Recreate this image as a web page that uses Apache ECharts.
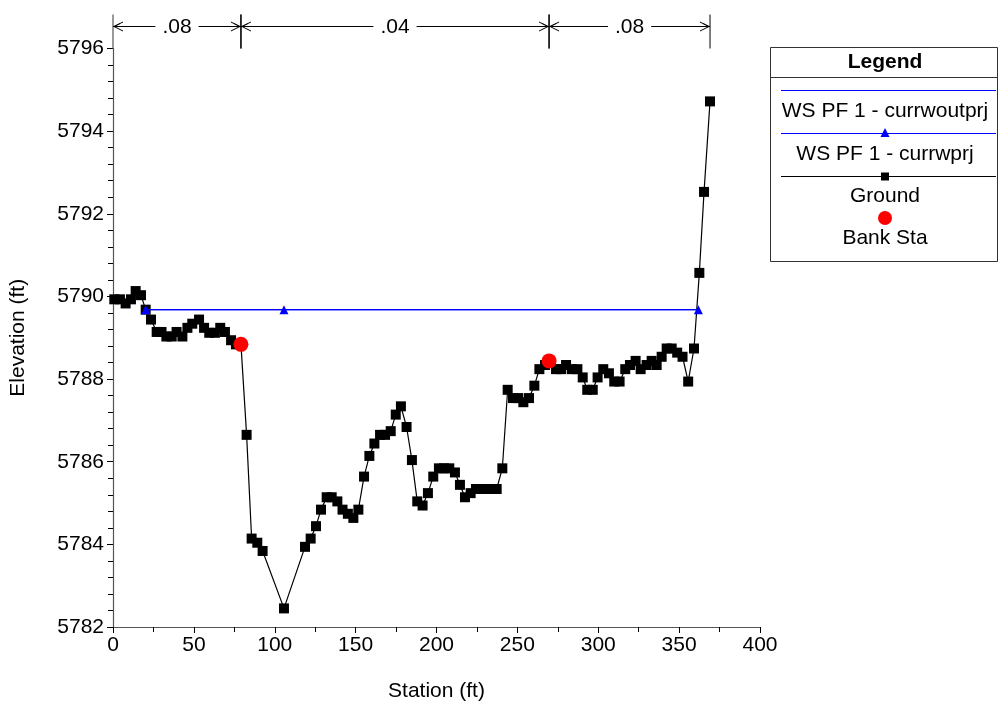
<!DOCTYPE html>
<html>
<head>
<meta charset="utf-8">
<title>Cross Section</title>
<script src="https://cdn.jsdelivr.net/npm/echarts@6/dist/echarts.min.js"></script>
<style>
  html, body { margin: 0; padding: 0; background: #fff; }
  #chart { width: 999px; height: 706px; }
</style>
</head>
<body>
<div id="chart"></div>
<script>
// Ground profile: station (ft), elevation (ft)
const groundStation = [
  0.8, 4.3, 7.8, 11.1, 14.0, 17.3, 20.2, 23.5, 27.0, 30.0, 33.0, 36.3, 39.3, 42.9, 46.0, 49.0,
  53.2, 56.3, 59.5, 63.0, 66.3, 69.2, 73.0, 76.0, 79.1, 82.6, 85.7, 89.2, 92.5, 105.7, 118.7,
  122.2, 125.5, 128.6, 132.1, 135.2, 138.7, 141.9, 145.2, 148.6, 151.7, 155.2, 158.5, 161.6,
  165.1, 168.2, 171.7, 174.8, 178.0, 181.5, 184.8, 188.1, 191.4, 194.7, 198.0, 201.5, 204.6,
  207.9, 211.4, 214.5, 217.6, 221.1, 224.4, 227.5, 231.0, 234.1, 237.2, 240.7, 244.0, 247.3,
  250.6, 253.7, 257.2, 260.5, 263.6, 267.1, 269.6, 273.9, 277.0, 280.1, 283.6, 287.1, 290.4,
  293.2, 296.6, 299.6, 303.1, 306.6, 309.9, 313.2, 316.7, 319.6, 323.1, 326.2, 329.9, 333.0,
  336.1, 339.2, 342.3, 345.4, 348.8, 352.1, 355.6, 359.2, 362.5, 365.4, 369.1
];
const groundElev = [
  5789.93, 5789.93, 5789.83, 5789.93, 5790.13, 5790.03, 5789.68, 5789.44, 5789.14, 5789.14,
  5789.03, 5789.03, 5789.14, 5789.03, 5789.24, 5789.34, 5789.44, 5789.24, 5789.12, 5789.12,
  5789.24, 5789.14, 5788.94, 5788.84, 5788.84, 5786.65, 5784.14, 5784.04, 5783.84, 5782.45,
  5783.94, 5784.14, 5784.44, 5784.84, 5785.14, 5785.14, 5785.04, 5784.84, 5784.74, 5784.64,
  5784.84, 5785.64, 5786.14, 5786.44, 5786.65, 5786.65, 5786.74, 5787.14, 5787.34, 5786.84,
  5786.04, 5785.04, 5784.94, 5785.24, 5785.64, 5785.84, 5785.84, 5785.84, 5785.74, 5785.44,
  5785.14, 5785.24, 5785.34, 5785.34, 5785.34, 5785.34, 5785.34, 5785.84, 5787.74, 5787.54,
  5787.54, 5787.44, 5787.54, 5787.84, 5788.24, 5788.34, 5788.44, 5788.24, 5788.24, 5788.34,
  5788.24, 5788.24, 5788.04, 5787.74, 5787.74, 5788.04, 5788.24, 5788.14, 5787.94, 5787.94,
  5788.24, 5788.34, 5788.44, 5788.24, 5788.34, 5788.44, 5788.34, 5788.54, 5788.74, 5788.74,
  5788.64, 5788.54, 5787.94, 5788.74, 5790.57, 5792.53, 5794.72
];

// Water surface, profile PF 1
const wsStation = [20.2, 105.7, 361.9];
const wsElevWoutPrj = [5789.68, 5789.68, 5789.68];
const wsElevWPrj = [5789.68, 5789.68, 5789.68];

// Bank stations
const bankStation = [79.1, 269.6];
const bankElev = [5788.84, 5788.44];

// Manning's n regions
const nBounds = [0, 79.1, 269.6, 369.1];
const nValues = ['.08', '.04', '.08'];

// Axis settings
const xMin = 0, xMax = 400, xStep = 50;
const yMin = 5782, yMax = 5796, yStep = 2;

const FONT = 'Liberation Sans, Arial, sans-serif';
const FS = 21;
const zip = (xs, ys) => xs.map((x, i) => [x, ys[i]]);

const chart = echarts.init(document.getElementById('chart'), null, { renderer: 'canvas' });

// n-value bracket annotation above the plot
function renderNRegion(params, api) {
  const x0 = api.value(0), x1 = api.value(1);
  const label = nValues[params.dataIndex];
  const p0 = api.coord([x0, yMax]);
  const p1 = api.coord([x1, yMax]);
  const top = p0[1];
  const ay = top - 22;
  const lineTop = top - 34;
  const stroke = { stroke: '#000', lineWidth: 1 };
  const children = [];
  children.push({ type: 'line', shape: { x1: p0[0], y1: lineTop, x2: p0[0], y2: top },
    style: { stroke: params.dataIndex === 0 ? '#555' : '#000', lineWidth: 1.2 } });
  children.push({ type: 'line', shape: { x1: p1[0], y1: lineTop, x2: p1[0], y2: top }, style: stroke });
  children.push({ type: 'line', shape: { x1: p0[0], y1: ay, x2: p1[0], y2: ay }, style: stroke });
  // open arrowheads pointing out to each boundary
  const ah = 10, aw = 4.5;
  children.push({ type: 'polyline', shape: { points: [[p0[0] + ah, ay - aw], [p0[0] + 1, ay], [p0[0] + ah, ay + aw]] }, style: { stroke: '#000', lineWidth: 1, fill: null } });
  children.push({ type: 'polyline', shape: { points: [[p0[0] + ah - 3, ay - aw + 1.5], [p0[0] + 1, ay]] }, style: { stroke: '#000', lineWidth: 0.8, fill: null } });
  children.push({ type: 'polyline', shape: { points: [[p1[0] - ah, ay - aw], [p1[0] - 1, ay], [p1[0] - ah, ay + aw]] }, style: { stroke: '#000', lineWidth: 1, fill: null } });
  children.push({ type: 'polyline', shape: { points: [[p1[0] - ah + 3, ay - aw + 1.5], [p1[0] - 1, ay]] }, style: { stroke: '#000', lineWidth: 0.8, fill: null } });
  children.push({ type: 'text', style: {
    text: label, x: (p0[0] + p1[0]) / 2, y: ay + 1, align: 'center', verticalAlign: 'middle',
    font: FS + 'px ' + FONT, fill: '#000', backgroundColor: '#fff', padding: [0, 7]
  } });
  return { type: 'group', children };
}

// Legend panel
const LX = 770, LW = 228, LY = 47, LH = 214, LC = LX + 115;
const LFONT = '21px ' + FONT;
const legendGraphic = [
  { type: 'rect', shape: { x: LX + 0.5, y: LY + 0.5, width: LW - 1, height: LH }, style: { fill: '#fff', stroke: '#333', lineWidth: 1 } },
  { type: 'text', style: { text: 'Legend', x: LC, y: 62, align: 'center', verticalAlign: 'middle', font: 'bold ' + LFONT, fill: '#000' } },
  { type: 'line', shape: { x1: LX, y1: 77.5, x2: LX + LW, y2: 77.5 }, style: { stroke: '#333', lineWidth: 1 } },
  { type: 'line', shape: { x1: 781, y1: 90.5, x2: 996, y2: 90.5 }, style: { stroke: '#0000ff', lineWidth: 1.2 } },
  { type: 'text', style: { text: 'WS PF 1 - currwoutprj', x: LC, y: 111, align: 'center', verticalAlign: 'middle', font: LFONT, fill: '#000' } },
  { type: 'line', shape: { x1: 781, y1: 133.5, x2: 996, y2: 133.5 }, style: { stroke: '#0000ff', lineWidth: 1.2 } },
  { type: 'polygon', shape: { points: [[LC, 128], [LC - 4.5, 137], [LC + 4.5, 137]] }, style: { fill: '#0000ff' } },
  { type: 'text', style: { text: 'WS PF 1 - currwprj', x: LC, y: 154, align: 'center', verticalAlign: 'middle', font: LFONT, fill: '#000' } },
  { type: 'line', shape: { x1: 781, y1: 176.5, x2: 996, y2: 176.5 }, style: { stroke: '#000', lineWidth: 1.2 } },
  { type: 'rect', shape: { x: LC - 4, y: 172.5, width: 8, height: 8 }, style: { fill: '#000' } },
  { type: 'text', style: { text: 'Ground', x: LC, y: 196, align: 'center', verticalAlign: 'middle', font: LFONT, fill: '#000' } },
  { type: 'circle', shape: { cx: LC, cy: 218, r: 7 }, style: { fill: '#ff0000' } },
  { type: 'text', style: { text: 'Bank Sta', x: LC, y: 238, align: 'center', verticalAlign: 'middle', font: LFONT, fill: '#000' } }
];

const option = {
  backgroundColor: '#fff',
  animation: false,
  textStyle: { fontFamily: FONT },
  grid: { left: 113, right: 239, top: 48.5, bottom: 79, containLabel: false, outerBoundsMode: 'none' },
  xAxis: {
    type: 'value', min: xMin, max: xMax, interval: xStep,
    name: 'Station (ft)', nameLocation: 'middle', nameGap: 54,
    nameTextStyle: { fontSize: FS, color: '#000', fontFamily: FONT },
    axisLine: { show: true, onZero: false, lineStyle: { color: '#555', width: 1.2 } },
    axisTick: { show: true, length: 6, lineStyle: { color: '#000' } },
    minorTick: { show: true, splitNumber: 2, length: 5, lineStyle: { color: '#000' } },
    axisLabel: { fontSize: FS, color: '#000', margin: 8, fontFamily: FONT, formatter: v => String(v) },
    splitLine: { show: false }
  },
  yAxis: {
    type: 'value', min: yMin, max: yMax, interval: yStep,
    name: 'Elevation (ft)', nameLocation: 'middle', nameGap: 84, nameRotate: 90,
    nameTextStyle: { fontSize: FS, color: '#000', fontFamily: FONT },
    axisLine: { show: true, onZero: false, lineStyle: { color: '#555', width: 1.2 } },
    axisTick: { show: true, length: 6, lineStyle: { color: '#000' } },
    minorTick: { show: true, splitNumber: 5, length: 5, lineStyle: { color: '#000' } },
    axisLabel: { fontSize: FS, color: '#000', margin: 9, fontFamily: FONT, formatter: v => String(v) },
    splitLine: { show: false }
  },
  graphic: legendGraphic,
  series: [
    {
      name: 'Ground', type: 'line', data: zip(groundStation, groundElev),
      symbol: 'rect', symbolSize: 10, showAllSymbol: true,
      lineStyle: { color: '#000', width: 1.2 }, itemStyle: { color: '#000' }, z: 2
    },
    {
      name: 'WS PF 1 - currwoutprj', type: 'line', data: zip(wsStation, wsElevWoutPrj),
      symbol: 'none', lineStyle: { color: '#0000ff', width: 1.2 }, z: 3
    },
    {
      name: 'WS PF 1 - currwprj', type: 'line', data: zip(wsStation, wsElevWPrj),
      symbol: 'triangle', symbolSize: [9, 9], showAllSymbol: true,
      lineStyle: { color: '#0000ff', width: 1.2 }, itemStyle: { color: '#0000ff' }, z: 4
    },
    {
      name: 'Bank Sta', type: 'scatter', data: zip(bankStation, bankElev),
      symbol: 'circle', symbolSize: 15, itemStyle: { color: '#ff0000', opacity: 1 }, z: 5
    },
    {
      name: 'n regions', type: 'custom', coordinateSystem: 'cartesian2d', clip: false, silent: true,
      renderItem: renderNRegion,
      encode: { x: [0, 1], y: 2 },
      data: nBounds.slice(0, -1).map((b, i) => [b, nBounds[i + 1], yMax]),
      z: 6
    }
  ]
};

chart.setOption(option);
</script>
</body>
</html>
